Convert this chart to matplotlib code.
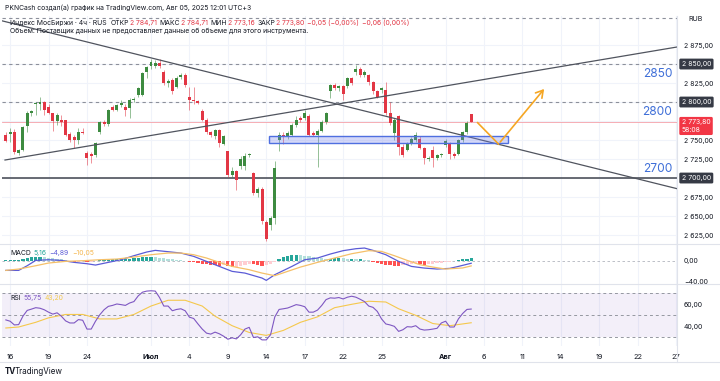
import numpy as np
import matplotlib
matplotlib.use("Agg")
import matplotlib.pyplot as plt
from matplotlib.patches import Rectangle
from matplotlib.lines import Line2D
from matplotlib.transforms import blended_transform_factory

plt.rcParams['font.family'] = ['Inter', 'DejaVu Sans']

# --- 4h candles, bar index -1 .. 108 (Jun 13 last bar .. Aug 05 first bar)
opens = [2757, 2758, 2760, 2733, 2737, 2768, 2785, 2797, 2798, 2800,
         2794, 2785, 2775, 2777, 2776, 2758, 2754, 2750, 2761, 2733,
         2731, 2730, 2761, 2774, 2771, 2794, 2790, 2796, 2794, 2792,
         2803, 2809, 2809, 2839, 2847, 2847, 2852, 2840, 2825, 2829,
         2820, 2833, 2836, 2807, 2803, 2801, 2788, 2777, 2760, 2755,
         2763, 2745, 2735, 2704, 2709, 2716, 2716, 2730, 2706, 2680,
         2686, 2642, 2638, 2647, 2750, 2757, 2755, 2757, 2770, 2779,
         2779, 2782, 2759, 2757, 2762, 2774, 2815, 2823, 2818, 2821,
         2821, 2831, 2839, 2844, 2836, 2835, 2826, 2814, 2816, 2816,
         2786, 2759, 2781, 2741, 2737, 2746, 2750, 2752, 2739, 2725,
         2737, 2726, 2730, 2744, 2746, 2732, 2732, 2750, 2760, 2784.71]
highs = [2760, 2766, 2765, 2738, 2769, 2788, 2790, 2800, 2806, 2801,
         2798, 2786, 2785, 2783, 2777, 2760, 2756, 2766, 2766, 2735,
         2734, 2748, 2775, 2776, 2791, 2796, 2798, 2803, 2797, 2805,
         2807, 2820, 2840, 2847, 2856, 2855, 2856, 2842, 2830, 2831,
         2834, 2838, 2838, 2820, 2820, 2803, 2791, 2779, 2762, 2765,
         2765, 2757, 2736, 2715, 2711, 2729, 2733, 2733, 2708, 2688,
         2688, 2645, 2650, 2722, 2761, 2760, 2762, 2772, 2782, 2782,
         2790, 2784, 2762, 2765, 2776, 2787, 2824, 2825, 2823, 2823,
         2833, 2833, 2849, 2846, 2842, 2837, 2828, 2816, 2820, 2827,
         2800, 2779, 2783, 2745, 2748, 2754, 2760, 2755, 2741, 2729,
         2742, 2732, 2733, 2752, 2748, 2734, 2752, 2762, 2775, 2784.71]
lows = [2747, 2747, 2732, 2730, 2735, 2761, 2781, 2783, 2790, 2783,
        2784, 2762, 2770, 2768, 2755, 2748, 2739, 2745, 2758, 2717,
        2720, 2728, 2758, 2768, 2769, 2788, 2788, 2794, 2781, 2779,
        2800, 2806, 2808, 2832, 2843, 2845, 2845, 2823, 2820, 2810,
        2818, 2830, 2820, 2789, 2797, 2797, 2775, 2758, 2754, 2752,
        2741, 2743, 2702, 2702, 2684, 2712, 2710, 2728, 2678, 2675,
        2640, 2617, 2632, 2640, 2735, 2745, 2752, 2755, 2767, 2774,
        2777, 2755, 2755, 2715, 2760, 2771, 2805, 2816, 2815, 2803,
        2819, 2823, 2836, 2833, 2833, 2823, 2811, 2805, 2812, 2783,
        2770, 2750, 2730, 2728, 2735, 2744, 2748, 2738, 2719, 2723,
        2715, 2724, 2728, 2741, 2725, 2727, 2730, 2748, 2758, 2773.16]
closes = [2749, 2761, 2734, 2737, 2767, 2785, 2788, 2799, 2800, 2790,
          2785, 2775, 2783, 2774, 2757, 2750, 2750, 2760, 2759, 2727,
          2729, 2746, 2774, 2771, 2790, 2790, 2796, 2799, 2790, 2803,
          2804, 2818, 2838, 2846, 2853, 2851, 2847, 2825, 2828, 2814,
          2832, 2836, 2822, 2803, 2802, 2799, 2777, 2761, 2756, 2763,
          2746, 2755, 2704, 2709, 2697, 2725, 2729, 2732, 2680, 2686,
          2643, 2620, 2647, 2713, 2757, 2754, 2759, 2770, 2777, 2776,
          2786, 2757, 2757, 2762, 2774, 2785, 2822, 2818, 2821, 2811,
          2831, 2825, 2844, 2836, 2840, 2826, 2814, 2807, 2818, 2785,
          2772, 2776, 2741, 2730, 2746, 2752, 2757, 2739, 2726, 2727,
          2726, 2730, 2732, 2749, 2732, 2729, 2750, 2760, 2773, 2773.80]
bars = np.arange(-1, len(closes) - 1)

# MACD histogram per bar, MACD / signal lines read at bar positions
macd_hist = [1, 1, 1, 2, 4, 6, 7, 8, 8, 7, 6, 5, 4, 3, 2, -1, -2, -2, -1, -2,
             -2, -1, 1, 2, 2, 3, 3, 3, 4, 4, 5, 6, 7, 8, 8, 7, 6, 5, 4, 3,
             2, 1, -1, -2, -3, -4, -6, -7, -8, -9, -10, -9, -11, -12, -12, -10, -8, -6, -7, -9,
             -10, -9, -6, -2, 3, 7, 10, 12, 12, 11, 10, 9, 8, 6, 5, 4, 4, 5, 6, 5,
             4, 4, 3, 3, 2, 1, -2, -4, -6, -8, -9, -10, -11, -9, -8, -6, -5, -7, -8, -7,
             -6, -5, -4, -3, -2, -1, 1, 3, 4, 5.16]
macd_bar = [-1, 2, 4, 6, 9, 12, 15, 18, 20, 23, 26, 29, 32, 34, 37, 40, 43, 46, 49, 52,
            55, 59, 60, 62, 66, 69, 72, 75, 78, 81, 83, 85, 88, 91, 94, 97, 100, 103, 105, 108]
macd_line = [-18.7, -18.7, -9.7, 0.6, 1.9, 0.6, -3.2, -5.8, -8.4, -3.2, 1.9, 9.7, 16.8, 20, 17.4,
             14.8, 8.4, -1.3, -11, -20.6, -23.9, -33.5, -38, -27, -11, 1.9, 5.2, 12.9, 19.4, 23.2,
             24.5, 20, 11.6, -1.3, -11, -14.2, -16.1, -14.8, -11, -4.89]
sig_bar = [-1, 2, 6, 9, 13, 17, 21, 25, 29, 33, 37, 40, 43, 46, 49, 52, 56, 59, 62, 65,
           68, 72, 76, 80, 84, 87, 90, 93, 96, 99, 102, 106, 108]
sig_line = [-18.7, -16.1, -9.7, -4.5, -1.3, 0, 1.9, 3.2, 7.1, 11.6, 14.8, 14.8, 11.6, 5.2, -3.2,
            -11, -17.4, -23.9, -29, -20.6, -12.3, -3.2, 5.2, 13.5, 19.4, 18, 9.7, 0.6, -7.7, -12.3,
            -16.1, -14, -10.05]

# RSI per bar, RSI-based MA
rsi = [45.8, 44.6, 41.2, 41.5, 49.2, 54.5, 55.7, 57, 56.5, 55.1, 52.9, 51.1, 52.3, 49.2, 44.9,
       43, 43, 46.1, 45.5, 37.4, 37.4, 44.6, 50.5, 55.1, 58.2, 59.1, 60.4, 59.8, 59.1, 61.3,
       62.6, 67.8, 71.2, 72.2, 72.5, 72.2, 66.3, 58.5, 58.5, 54.2, 55.4, 56, 54.2, 48.3, 47.1,
       42.1, 37.4, 33.7, 32.8, 34.6, 33.1, 30.9, 28.1, 29.4, 28.4, 32.2, 37.4, 39, 29.7, 30.3,
       27.5, 27.5, 32.2, 48.6, 55.4, 56, 56.7, 58.2, 59.8, 59.1, 57.9, 52.9, 52.9, 54.8, 59.1,
       64.4, 66, 65.7, 66.3, 65, 66.6, 67.5, 66.6, 64.7, 62.6, 58.5, 57.3, 53.6, 46.7, 42.1,
       41.2, 39.9, 35.3, 36.8, 39.6, 39.3, 40.5, 37.4, 36.5, 36.8, 37.4, 38.1, 43, 44.6, 39.3,
       39.3, 46.7, 51.7, 55.4, 55.75]
rsi_ma_bar = [-1, 2, 6, 9, 13, 17, 21, 25, 29, 33, 37, 41, 45, 48, 52, 56, 60, 64, 68, 72,
              76, 80, 84, 88, 91, 95, 99, 103, 108]
rsi_ma = [38.4, 39.3, 43.6, 47.7, 50.8, 50.8, 46.7, 46.7, 50.8, 58.5, 63.8, 63.8, 58.5, 49.2, 40.5,
          34.3, 31.6, 36.2, 43.6, 48.6, 57, 60.1, 62.9, 62.2, 56, 50, 42.5, 40.5, 43.2]

# drawings
desc_line = ([-2, 156.2], [2907, 2686])
asc_line = ([-1.2, 156.2], [2723.7, 2872.4])
zone = (60.7, 116.6, 2745.7, 2755.7)
path_x = [109.5, 114.4, 125.5]
path_y = [2772.8, 2744.7, 2820]
dashed_levels = [2910, 2850, 2800]
solid_level = 2700
last_price = 2773.80

tick_bars = [0, 9, 18, 33, 42, 51, 60, 69, 78, 87, 102, 111, 120, 129, 138, 147, 156]
tick_text = ['16', '19', '24', 'Июл', '4', '9', '14', '17', '22', '25', 'Авг',
             '6', '11', '14', '19', '22', '27']
price_ticks = list(range(2625, 2900, 25))
boxed_levels = [2850, 2800, 2700]
hidden_ticks = [2775]   # sits under the last-price label

UP = '#3d8b40'
DN = '#e23644'
TXT = '#131722'
GRID = '#f0f3fa'
HFS = 4.9

def fx(px):
    return px / 720

def fy(py):
    return 1 - py / 381

def fmt(v):
    s = f"{v:,.2f}"
    return s.replace(',', ' ').replace('.', ',').replace('-', '\u2212')

fig = plt.figure(figsize=(7.2, 3.81), dpi=100)
renderer = fig.canvas.get_renderer()

def chain(x0, y0, pieces, size=HFS):
    # place coloured text pieces one after another, gap in pixels after each
    x = x0
    for s, col, gap in pieces:
        t = fig.text(fx(x), fy(y0), s, fontsize=size, color=col, va='center')
        x += t.get_window_extent(renderer).width + gap

L, W = fx(2), fx(677) - fx(2)
ax = fig.add_axes([L, fy(244), W, fy(16) - fy(244)])
axm = fig.add_axes([L, fy(284), W, fy(244) - fy(284)], sharex=ax)
axr = fig.add_axes([L, fy(346), W, fy(284) - fy(346)], sharex=ax)

for a in (ax, axm, axr):
    for s in a.spines.values():
        s.set_visible(False)
    a.yaxis.tick_right()
    a.tick_params(length=0, labelsize=5.0, labelcolor=TXT, pad=5)
    for t in tick_bars:
        a.axvline(t, color=GRID, lw=0.8, zorder=0)
    a.set_facecolor('white')

# --- price pane
ax.set_xlim(-1.9, 156.2)
ax.set_ylim(2613.2, 2913.2)
ax.set_yticks(price_ticks)
ax.set_yticklabels(['' if p in boxed_levels + hidden_ticks else fmt(p) for p in price_ticks])
for p in price_ticks:
    ax.axhline(p, color=GRID, lw=0.8, zorder=0)

o = np.array(opens); h = np.array(highs); l = np.array(lows); c = np.array(closes)
cols = np.where(c >= o, UP, DN)
ax.vlines(bars, l, h, colors=cols, lw=0.7, alpha=0.55, zorder=2)
ax.bar(bars, np.maximum(np.abs(c - o), 0.8), bottom=np.minimum(o, c), width=0.7,
       color=cols, zorder=3)

for lv in dashed_levels:
    ax.axhline(lv, color='#8c909b', lw=0.8, ls=(0, (3, 3)), zorder=1)
ax.axhline(solid_level, color='#3f434d', lw=1.1, zorder=1)
ax.axhline(last_price, color='#f5a0a8', lw=0.6, zorder=1)

ax.plot(*desc_line, color='#50545e', lw=0.9, zorder=4)
ax.plot(*asc_line, color='#50545e', lw=0.9, zorder=4)
ax.add_patch(Rectangle((zone[0], zone[2]), zone[1] - zone[0], zone[3] - zone[2],
                       fc=(0.45, 0.5, 0.92, 0.3), ec='#4f6fe0', lw=1, zorder=5))
ax.plot(path_x[:2], path_y[:2], color='#f5a623', lw=1.2, zorder=6)
ax.annotate('', xy=(path_x[2], path_y[2]), xytext=(path_x[1], path_y[1]),
            arrowprops=dict(arrowstyle='->,head_length=0.5,head_width=0.3',
                            color='#f5a623', lw=1.2), zorder=6)

tr = blended_transform_factory(ax.transAxes, ax.transData)
for lab, yy in (('2850', 2837), ('2800', 2787), ('2700', 2712.5)):
    ax.text(0.993, yy, lab, transform=tr, ha='right', va='center', fontsize=8.6,
            color='#3f6fd8')
for lv in boxed_levels:
    ax.text(1.007, lv, fmt(lv), transform=tr, ha='left', va='center', fontsize=5.0,
            color='white', clip_on=False,
            bbox=dict(boxstyle='round,pad=0.35,rounding_size=0.2', fc='#363a45', ec='none'))
ax.text(1.007, 2768.5, fmt(last_price) + '\n58:08', transform=tr, ha='left', va='center',
        fontsize=5.0, color='white', linespacing=1.25, clip_on=False,
        bbox=dict(boxstyle='round,pad=0.35,rounding_size=0.2', fc='#f23645', ec='none'))
ax.tick_params(labelbottom=False)

# --- MACD pane
axm.set_ylim(-45, 32.3)
axm.set_yticks([0, -40])
axm.set_yticklabels(['0,00', '\u221240,00'])
axm.axhline(0, color='#b2b5be', lw=0.6, ls=(0, (3, 3)), zorder=1)
hc = []
prev = 0
for v in macd_hist:
    if v >= 0:
        hc.append('#26a69a' if v >= prev else '#b2dfdb')
    else:
        hc.append('#ff5252' if v < prev else '#ffcdd2')
    prev = v
axm.bar(bars, macd_hist, width=0.75, color=hc, zorder=2)
axm.plot(macd_bar, macd_line, color='#5b5bd6', lw=0.9, zorder=3)
axm.plot(sig_bar, sig_line, color='#f5c069', lw=0.9, zorder=3)
axm.tick_params(labelbottom=False)

# --- RSI pane
axr.set_ylim(21.9, 78.7)
axr.set_yticks([60, 40])
axr.set_yticklabels(['60,00', '40,00'])
axr.axhspan(30, 70, color='#7e57c2', alpha=0.09, lw=0, zorder=0)
for lv in (70, 50, 30):
    axr.axhline(lv, color='#9598a1', lw=0.7, ls=(0, (3, 3)), zorder=1)
axr.plot(rsi_ma_bar, rsi_ma, color='#f5c84c', lw=0.8, zorder=2)
axr.plot(bars, rsi, color='#7e57c2', lw=0.8, zorder=3)
axr.set_xticks(tick_bars)
axr.set_xticklabels(tick_text)
axr.tick_params(axis='x', labelsize=5.3, pad=6)
for t in axr.get_xticklabels():
    if t.get_text() in ('Июл', 'Авг'):
        t.set_fontweight('bold')

# --- frame lines
for yy in (244, 284, 362):
    fig.add_artist(Line2D([0, 1], [fy(yy), fy(yy)], color='#e0e3eb', lw=0.8))
fig.add_artist(Line2D([fx(677), fx(677)], [fy(362), fy(16)], color='#e0e3eb', lw=0.8))

# --- header texts
fig.text(fx(5), fy(8), 'PKNCash создал(а) график на TradingView.com, Авг 05, 2025 12:01 UTC+3',
         fontsize=HFS, color=TXT, va='center')
chain(10, 23, [('Индекс МосБиржи · 4ч · RUS', TXT, 4), ('ОТКР', TXT, 0.5), ('2 784,71', DN, 3),
               ('МАКС', TXT, 0.5), ('2 784,71', DN, 3), ('МИН', TXT, 0.5), ('2 773,16', DN, 3),
               ('ЗАКР', TXT, 0.5), ('2 773,80', DN, 3), ('\u22120,05 (\u22120,00%)', DN, 3),
               ('\u22120,06 (0,00%)', DN, 0)])
fig.text(fx(10), fy(31), 'Объем: Поставщик данных не предоставляет данные об объеме для этого инструмента.',
         fontsize=HFS, color=TXT, va='center')
fig.text(fx(688), fy(19), 'RUB', fontsize=5.0, color=TXT, va='center')

chain(10, 253, [('MACD', TXT, 3), ('5,16', '#26a69a', 3), ('\u22124,89', '#5b5bd6', 3),
                ('\u221210,05', '#f5b74f', 0)])
chain(10, 298, [('RSI', TXT, 3), ('55,75', '#7e57c2', 3), ('43,20', '#f2c94c', 0)])

fig.text(fx(5), fy(371), 'TV', fontsize=5.8, fontweight='bold', color=TXT, va='center')
fig.text(fx(15), fy(371), 'TradingView', fontsize=5.8, color=TXT, va='center')

fig.savefig('out.png', dpi=100, facecolor='white')
